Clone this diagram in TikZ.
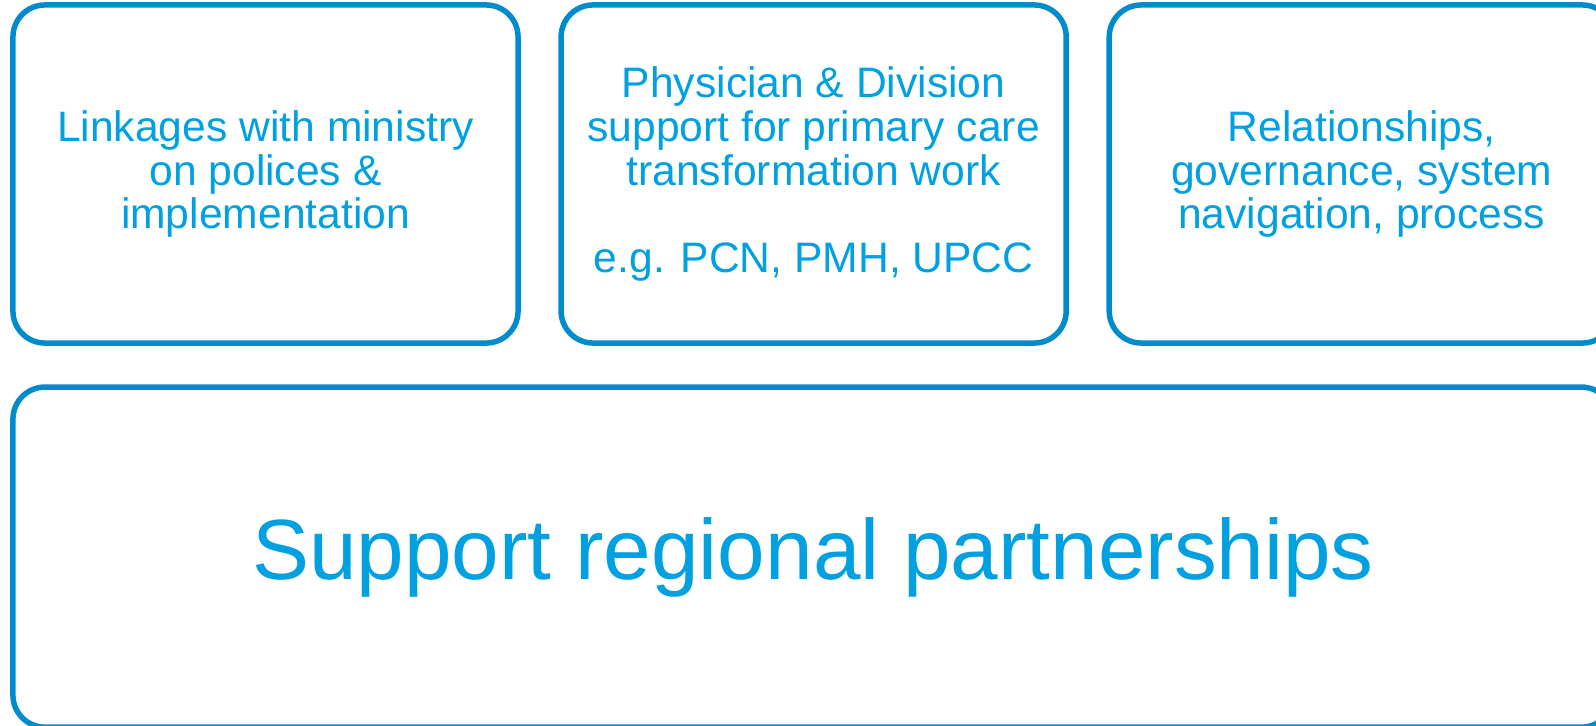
\documentclass[tikz,border=0pt]{standalone}
\usepackage{fontspec}
\setmainfont{Liberation Sans}
\usetikzlibrary{positioning}
\definecolor{boxblue}{RGB}{0,140,204}
\definecolor{textblue}{RGB}{0,160,225}
\begin{document}
\begin{tikzpicture}[x=0.025cm,y=-0.025cm,
	topbox/.style={draw=boxblue,line width=3.9pt,rounded corners=0.8cm,
		minimum width=12.625cm,minimum height=8.45cm,outer sep=0pt,
		text=textblue,align=center,font=\fontsize{30.3pt}{31pt}\selectfont},
	basebox/.style={topbox,minimum width=40cm,minimum height=8.5cm,
		font=\fontsize{60.8pt}{62pt}\selectfont}]

\useasboundingbox (0,0) rectangle (1596,725);

%top row
\node[topbox] (ministry) at (265.5,174) {Linkages with ministry\\on polices \&\\implementation};
\node[topbox,right=1.075cm of ministry] (physician) {Physician \& Division\\support for primary care\\transformation work\\[31pt]e.g. PCN, PMH, UPCC};
\node[topbox,right=1.075cm of physician] (relations) {Relationships,\\governance, system\\navigation, process};

%bottom
\node[basebox,below=1.1cm of ministry.south west,anchor=north west] (regional) {Support regional partnerships};

\end{tikzpicture}
\end{document}
